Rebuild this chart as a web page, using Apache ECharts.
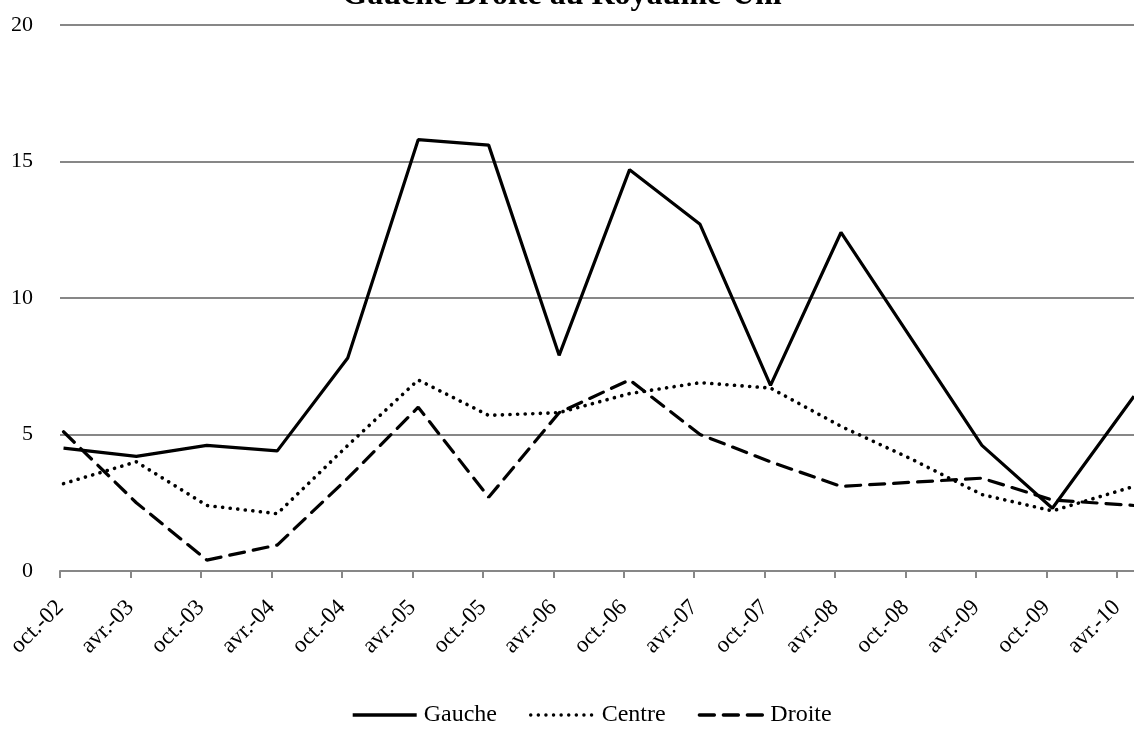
<!DOCTYPE html>
<html>
<head>
<meta charset="utf-8">
<script src="https://cdn.jsdelivr.net/npm/echarts@6/dist/echarts.min.js"></script>
<style>
html,body{margin:0;padding:0;background:#fff;}
#chart{width:1134px;height:738px;}
</style>
</head>
<body>
<div id="chart"></div>
<script>
// Tick labels every 6 months, starting oct.-02
const tickLabels = ['oct.-02','avr.-03','oct.-03','avr.-04','oct.-04','avr.-05','oct.-05','avr.-06','oct.-06','avr.-07','oct.-07','avr.-08','oct.-08','avr.-09','oct.-09','avr.-10'];
// Survey dates, in months after October 2002 (estimated)
const surveyMonths = [0.3, 6.5, 12.5, 18.5, 24.5, 30.5, 36.5, 42.5, 48.5, 54.5, 60.5, 66.5, 72.5, 78.5, 84.5, 91.45];
const gauche = [4.5, 4.2, 4.6, 4.4, 7.8, 15.8, 15.6, 7.9, 14.7, 12.7, 6.8, 12.4, 8.5, 4.6, 2.3, 6.4];
const centre = [3.2, 4.0, 2.4, 2.1, 4.6, 7.0, 5.7, 5.8, 6.5, 6.9, 6.7, 5.3, 4.1, 2.8, 2.2, 3.1];
const droite = [5.1, 2.5, 0.4, 0.95, 3.4, 6.0, 2.7, 5.8, 7.0, 5.0, 4.0, 3.1, 3.25, 3.4, 2.6, 2.4];
const seriesNames = ['Gauche', 'Centre', 'Droite'];
const titleText = 'Gauche Droite au Royaume-Uni';

const pair = arr => arr.map((v, i) => [surveyMonths[i], v]);
const FONT = '"Liberation Serif", "DejaVu Serif", serif';

const chart = echarts.init(document.getElementById('chart'));
chart.setOption({
  animation: false,
  backgroundColor: '#ffffff',
  title: {
    text: titleText,
    left: 557,
    textAlign: 'center',
    top: -25,
    textStyle: { fontFamily: FONT, fontSize: 32, fontWeight: 'bold', color: '#000' }
  },
  legend: {
    bottom: 6,
    left: 346,
    itemWidth: 64,
    itemHeight: 14,
    itemGap: 32,
    itemStyle: { opacity: 0 },
    lineStyle: { width: 3.4 },
    textStyle: { fontFamily: FONT, fontSize: 24, color: '#000', padding: [0, 0, 0, 2] },
    data: seriesNames
  },
  grid: { left: 60, right: 0, top: 25, bottom: 167, containLabel: false },
  xAxis: {
    type: 'value',
    min: 0,
    max: 91.45,
    interval: 6,
    splitLine: { show: false },
    axisLine: { show: true, lineStyle: { color: '#878787', width: 2 } },
    axisTick: { show: true, length: 7, lineStyle: { color: '#878787', width: 2 } },
    axisLabel: {
      rotate: 45,
      margin: 33,
      showMaxLabel: false,
      fontFamily: FONT,
      fontSize: 23,
      color: '#000',
      formatter: function (v) {
        const i = Math.round(v / 6);
        if (Math.abs(v - i * 6) > 1e-6) return '';
        return tickLabels[i] || '';
      }
    }
  },
  yAxis: {
    type: 'value',
    min: 0,
    max: 20,
    interval: 5,
    axisLine: { show: false },
    axisTick: { show: false },
    splitLine: { lineStyle: { color: '#878787', width: 2 } },
    axisLabel: { margin: 27, fontFamily: FONT, fontSize: 22, color: '#000' }
  },
  series: [
    {
      name: seriesNames[0], type: 'line', data: pair(gauche), symbol: 'none',
      lineStyle: { color: '#000', width: 3.2, type: 'solid' },
      itemStyle: { color: '#000' }
    },
    {
      name: seriesNames[1], type: 'line', data: pair(centre), symbol: 'none',
      lineStyle: { color: '#000', width: 3.6, type: [0.1, 7.5], cap: 'round' },
      itemStyle: { color: '#000' }
    },
    {
      name: seriesNames[2], type: 'line', data: pair(droite), symbol: 'none',
      lineStyle: { color: '#000', width: 3.2, type: [15, 9], cap: 'round' },
      itemStyle: { color: '#000' }
    }
  ]
});
</script>
</body>
</html>
